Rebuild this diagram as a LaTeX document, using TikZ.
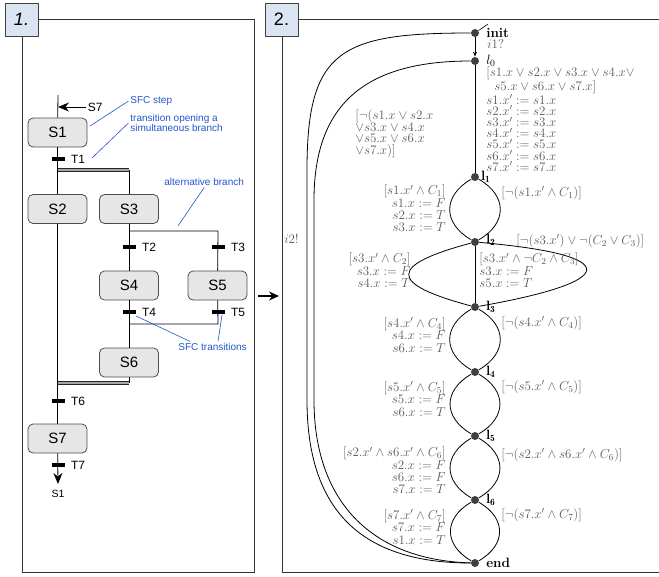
\RequirePackage{fix-cm}
\documentclass[tikz,border=0pt]{standalone}
\usepackage{amsmath}
\usepackage{fontspec}
\setsansfont{Liberation Sans}
\usetikzlibrary{arrows.meta}

\definecolor{stepfill}{RGB}{230,230,230}
\definecolor{tagfill}{RGB}{219,228,242}
\definecolor{notecol}{RGB}{35,85,205}

\tikzset{
  frame/.style = {draw=black!80, line width=1pt},
  tag/.style = {draw=black!75, fill=tagfill, minimum size=33pt, inner sep=0pt, line width=0.8pt,
                font=\sffamily\fontsize{18}{18}\selectfont},
  sfcstep/.style = {draw=black!70, fill=stepfill, rounded corners=5pt, minimum width=59pt,
                    minimum height=29pt, inner sep=0pt, font=\sffamily\fontsize{15}{15}\selectfont},
  trbar/.style = {fill=black, minimum width=13pt, minimum height=3.5pt, inner sep=0pt},
  trname/.style = {font=\sffamily\fontsize{12}{12}\selectfont},
  trlab/.style = {trname, xshift=2.5pt},
  simbar/.style = {draw=black!85, double=black!35, double distance=1.6pt, line width=0.8pt},
  note/.style = {font=\sffamily\fontsize{10}{10.5}\selectfont, text=notecol, align=left, inner sep=1.5pt},
  noteline/.style = {draw=notecol, line width=0.6pt},
  loc/.style = {circle, fill=black!75, minimum size=8pt, inner sep=0pt},
  locname/.style = {font=\fontsize{13.5}{13.5}\selectfont\bfseries, inner sep=1pt, xshift=5.5pt},
  grd/.style = {text=black!65, font=\fontsize{13}{12.4}\selectfont, inner sep=0pt},
  lbend/.style = {out=-150, in=150, looseness=1.4},
  rbend/.style = {out=-30, in=30, looseness=1.4},
  tip/.style = {-{Stealth[length=11pt, width=9pt]}},
}

\begin{document}
\begin{tikzpicture}[x=1pt, y=1pt, line width=0.8pt, >={Stealth[length=5pt, width=4pt]}]
\useasboundingbox (0,0) rectangle (659,-576);

% the two panels
\draw[frame] (22,-19) rectangle (254,-572.5);
\draw[frame] (662,-19) -- (282,-19) -- (282,-572.5) -- (662,-572.5);
\node[tag] (tag1) at (21.5,-19.5) {\itshape 1.};
\node[tag] (tag2) at (281.5,-19.5) {2.};
\coordinate (q1) at (258,-296);
\coordinate (q2) at (279,-296);
\draw[-{Stealth[length=10pt, width=9pt]}, line width=1.2pt] (q1) -- (q2);

% SFC
\node[sfcstep] (s1) at (57.5,-132.5) {S1};
\node[sfcstep] (s2) at (57.5,-209) {S2};
\node[sfcstep] (s3) at (129,-209) {S3};
\node[sfcstep] (s4) at (129,-285.5) {S4};
\node[sfcstep] (s5) at (217.5,-285.5) {S5};
\node[sfcstep] (s6) at (129,-362.5) {S6};
\node[sfcstep] (s7) at (57.5,-438.5) {S7};

\coordinate (top1) at (58,-95);
\coordinate (in7) at (58,-107);
\node[trname, anchor=west, inner sep=1.5pt] (ls7) at (86,-107) {S7};
\coordinate (sim1) at (58,-170);
\coordinate (sim2) at (129,-170);
\coordinate (alt1) at (129,-231);
\coordinate (alt2) at (218,-231);
\coordinate (alt3) at (129,-324);
\coordinate (alt4) at (218,-324);
\coordinate (sim3) at (58,-383);
\coordinate (sim4) at (129,-383);
\coordinate (out1) at (58,-484);
\node[trname, anchor=north, font=\sffamily\fontsize{10.5}{10.5}\selectfont, inner sep=0pt] (go1) at (58,-490) {S1};

\draw (top1) -- (s1);
\draw[tip] (ls7) -- (in7);
\draw (s1) -- (s2);
\draw (sim2) -- (s3);
\draw[simbar] (sim1) -- (sim2);
\draw (s3) -- (s4);
\draw (alt1) -- (alt2) -- (s5);
\draw (s4) -- (s6);
\draw (s5) -- (alt4) -- (alt3);
\draw (s6) -- (sim4);
\draw (s2) -- (s7);
\draw[simbar] (sim3) -- (sim4);
\draw[tip] (s7) -- (out1);

\node[trbar, label={[trlab]right:T1}] (t1) at (58,-159) {};
\node[trbar, label={[trlab]right:T2}] (t2) at (129,-247) {};
\node[trbar, label={[trlab]right:T3}] (t3) at (218,-247) {};
\node[trbar, label={[trlab]right:T4}] (t4) at (129,-312) {};
\node[trbar, label={[trlab]right:T5}] (t5) at (218,-312) {};
\node[trbar, label={[trlab]right:T6}] (t6) at (58,-401) {};
\node[trbar, label={[trlab]right:T7}] (t7) at (58,-465) {};

% notes
\node[note, anchor=west] (n1) at (128.5,-101) {SFC step};
\node[note, anchor=west] (n2) at (128.5,-123) {transition opening a\\simultaneous branch};
\node[note, anchor=west] (n3) at (162.5,-182) {alternative branch};
\node[note, anchor=west] (n4) at (176.5,-347) {SFC transitions};
\coordinate (a1) at (90,-126);
\coordinate (a2) at (92,-158);
\coordinate (a3) at (178,-226);
\coordinate (a4) at (136,-316);
\coordinate (a5) at (222,-315);
\draw[noteline] (n1.west) -- (a1);
\draw[noteline] (n2.west) -- (a2);
\draw[noteline] (n3.south) -- (a3);
\draw[noteline] ([xshift=13.5pt]n4.north west) -- (a4);
\draw[noteline] ([xshift=41.5pt]n4.north west) -- (a5);

% automaton
\node[loc, label={[locname]right:init}] (init) at (475,-33) {};
\node[loc, label={[locname]right:$l_0$}] (l0) at (475,-61) {};
\node[loc, label={[locname, xshift=-5pt]right:$\mathbf{l_1}$}] (l1) at (475,-177) {};
\node[loc, label={[locname, yshift=2pt]right:$\mathbf{l_2}$}] (l2) at (475,-242) {};
\node[loc, label={[locname]right:$\mathbf{l_3}$}] (l3) at (475,-307) {};
\node[loc, label={[locname]right:$\mathbf{l_4}$}] (l4) at (475,-372) {};
\node[loc, label={[locname]right:$\mathbf{l_5}$}] (l5) at (475,-436) {};
\node[loc, label={[locname]right:$\mathbf{l_6}$}] (l6) at (475,-500) {};
\node[loc, label={[locname]right:end}] (end) at (475,-563) {};

\coordinate (st) at (488,-24);
\draw[line width=0.6pt] (init) -- (st);
\draw[->] (init) -- node[grd, pos=0.35, anchor=west, xshift=12pt] (a0) {$i1?$} (l0);
\draw (l0) -- node[grd, anchor=west, xshift=11pt, align=left, font=\fontsize{13}{11.1}\selectfont] (g01)
  {$[s1.x \vee s2.x \vee s3.x \vee s4.x\vee$\\
   \hspace*{8pt}$s5.x \vee s6.x \vee s7.x]$\\
   $s1.x' := s1.x$\\ $s2.x' := s2.x$\\ $s3.x' := s3.x$\\ $s4.x' := s4.x$\\
   $s5.x' := s5.x$\\ $s6.x' := s6.x$\\ $s7.x' := s7.x$} (l1);

\draw (init) .. controls (340,-33) and (307,-50) .. (307,-170)
  -- node[grd, pos=0.3, left=8pt] (i2) {$i2!$} (307,-400)
  .. controls (307,-510) and (361,-563) .. (end);
\draw (l0) .. controls (370,-61) and (314,-100) .. (314,-200)
  -- (314,-400) .. controls (314,-500) and (370,-560) .. (end);
\node[grd, align=left, anchor=west, font=\fontsize{13}{11.1}\selectfont] (g0) at (355,-133.4)
  {$[\neg(s1.x \vee s2.x$\\ $\vee s3.x \vee s4.x$\\ $\vee s5.x \vee s6.x$\\ $\vee s7.x)]$};

\draw (l1) to[lbend] (l2);
\draw (l1) to[rbend] (l2);
\draw (l2) -- (l3);
\draw (l2) to[out=-165, in=165, looseness=3.5] (l3);
\draw (l2) to[out=-5, in=10, looseness=5.8] (l3);
\draw (l3) to[lbend] (l4);
\draw (l3) to[rbend] (l4);
\draw (l4) to[lbend] (l5);
\draw (l4) to[rbend] (l5);
\draw (l5) to[lbend] (l6);
\draw (l5) to[rbend] (l6);
\draw (l6) to[lbend] (end);
\draw (l6) to[rbend] (end);

\node[grd, align=right, anchor=east] (c1) at (446,-208.5) {$[s1.x' \wedge C_1]$\\ $s1.x := F$\\ $s2.x := T$\\ $s3.x := T$};
\node[grd, anchor=west] (d1) at (501,-193) {$[\neg(s1.x' \wedge C_1)]$};
\node[grd, anchor=west] (d2) at (516,-241) {$[\neg(s3.x') \vee \neg(C_2 \vee C_3)]$};
\node[grd, align=right, anchor=east] (c2) at (411,-270.5) {$[s3.x' \wedge C_2]$\\ $s3.x := F$\\ $s4.x := T$};
\node[grd, align=left, anchor=west] (e2) at (479,-270.5) {$[s3.x' \wedge \neg C_2 \wedge C_3]$\\ $s3.x := F$\\ $s5.x := T$};
\node[grd, align=right, anchor=east] (c3) at (446,-335) {$[s4.x' \wedge C_4]$\\ $s4.x := F$\\ $s6.x := T$};
\node[grd, anchor=west] (d3) at (501,-323) {$[\neg(s4.x' \wedge C_4)]$};
\node[grd, align=right, anchor=east] (c4) at (446,-399) {$[s5.x' \wedge C_5]$\\ $s5.x := F$\\ $s6.x := T$};
\node[grd, anchor=west] (d4) at (501,-387) {$[\neg(s5.x' \wedge C_5)]$};
\node[grd, align=right, anchor=east] (c5) at (446,-470.5) {$[s2.x' \wedge s6.x' \wedge C_6]$\\ $s2.x := F$\\ $s6.x := F$\\ $s7.x := T$};
\node[grd, anchor=west] (d5) at (501,-455) {$[\neg(s2.x' \wedge s6.x' \wedge C_6)]$};
\node[grd, align=right, anchor=east] (c6) at (446,-527) {$[s7.x' \wedge C_7]$\\ $s7.x := F$\\ $s1.x := T$};
\node[grd, anchor=west] (d6) at (501,-515) {$[\neg(s7.x' \wedge C_7)]$};
\end{tikzpicture}
\end{document}
